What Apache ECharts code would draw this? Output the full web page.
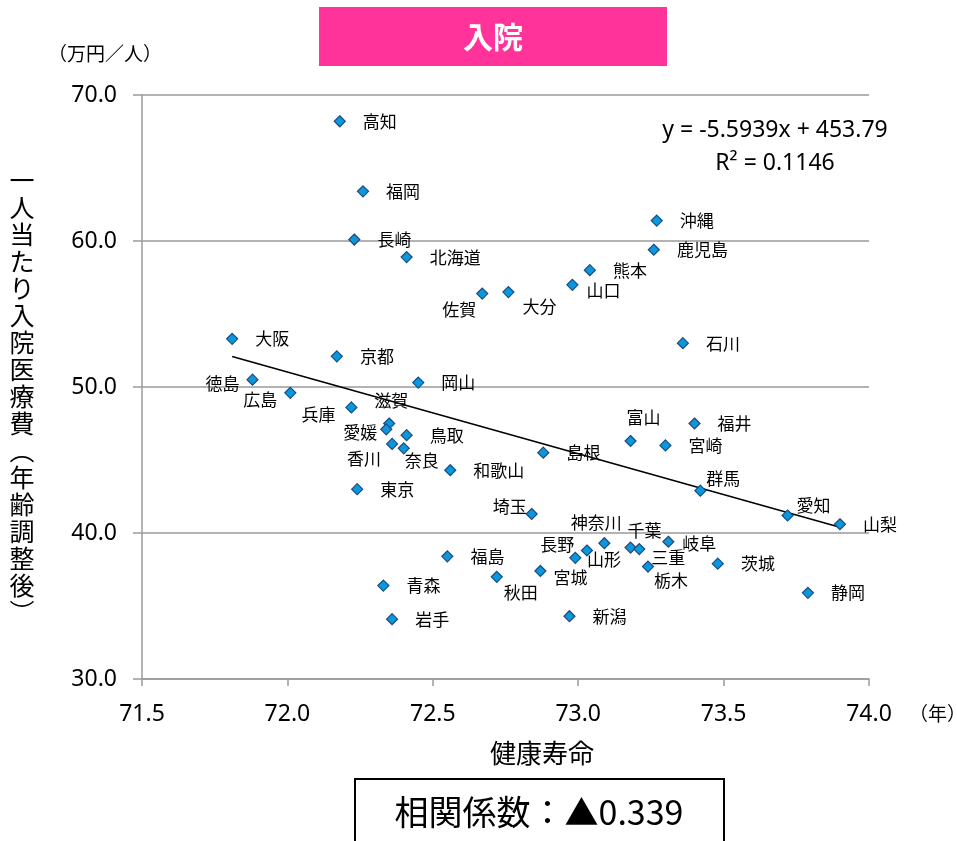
<!DOCTYPE html>
<html>
<head>
<meta charset="utf-8">
<script src="https://cdn.jsdelivr.net/npm/echarts@6/dist/echarts.min.js"></script>
<style>
html, body { margin: 0; padding: 0; background: #fff; }
#chart { width: 957px; height: 841px; }
</style>
</head>
<body>
<div id="chart"></div>
<script>
// prefecture names, healthy life expectancy (years), age-adjusted inpatient cost per person (10k yen)
const prefectures = ['北海道', '青森', '岩手', '宮城', '秋田', '山形', '福島', '茨城', '栃木', '群馬',
    '埼玉', '千葉', '東京', '神奈川', '新潟', '富山', '石川', '福井', '山梨', '長野',
    '岐阜', '静岡', '愛知', '三重', '滋賀', '京都', '大阪', '兵庫', '奈良', '和歌山',
    '鳥取', '島根', '岡山', '広島', '山口', '徳島', '香川', '愛媛', '高知', '福岡',
    '佐賀', '長崎', '熊本', '大分', '宮崎', '鹿児島', '沖縄'];
const lifeExpectancy = [72.41, 72.33, 72.36, 72.87, 72.72, 73.03, 72.55, 73.48, 73.24, 73.42,
    72.84, 73.18, 72.24, 73.09, 72.97, 73.18, 73.36, 73.40, 73.90, 72.99,
    73.31, 73.79, 73.72, 73.21, 72.35, 72.17, 71.81, 72.22, 72.40, 72.56,
    72.41, 72.88, 72.45, 72.01, 72.98, 71.88, 72.36, 72.34, 72.18, 72.26,
    72.67, 72.23, 73.04, 72.76, 73.30, 73.26, 73.27];
const inpatientCost = [58.9, 36.4, 34.1, 37.4, 37.0, 38.8, 38.4, 37.9, 37.7, 42.9,
    41.3, 39.0, 43.0, 39.3, 34.3, 46.3, 53.0, 47.5, 40.6, 38.3,
    39.4, 35.9, 41.2, 38.9, 47.5, 52.1, 53.3, 48.6, 45.8, 44.3,
    46.7, 45.5, 50.3, 49.6, 57.0, 50.5, 46.1, 47.1, 68.2, 63.4,
    56.4, 60.1, 58.0, 56.5, 46.0, 59.4, 61.4];

// Excel trendline shown on the chart
const trendSlope = -5.5939;
const trendIntercept = 453.79;
const trendText = ['y = -5.5939x + 453.79', 'R² = 0.1146'];
const correlationText = '相関係数：▲0.339';

const xRange = { min: 71.5, max: 74.0, step: 0.5 };
const yRange = { min: 30, max: 70, step: 10 };

// labels that were dragged away from the default right-hand spot: centre offset from the marker
const labelNudge = {
    '佐賀': [-23, 16], '大分': [31, 14], '山口': [31, 6], '徳島': [-30, 4], '広島': [-30, 7],
    '兵庫': [-33, 7], '滋賀': [2, -23], '愛媛': [-26, 3], '香川': [-28, 15], '奈良': [18, 12],
    '富山': [13, -23], '群馬': [23, -12], '愛知': [26, -10], '埼玉': [-22, -7], '長野': [-18, -13],
    '山形': [17, 9], '神奈川': [-8, -21], '千葉': [14, -17], '三重': [29, 8], '栃木': [23, 14],
    '岐阜': [31, 2], '秋田': [24, 16], '宮城': [30, 7]
};

const jp = '"Noto Sans CJK JP", sans-serif';
const num = '"Noto Sans", sans-serif';

const points = prefectures.map(function (name, i) {
    const item = { name: name, value: [lifeExpectancy[i], inpatientCost[i]] };
    if (labelNudge[name]) {
        item.label = { position: 'inside', offset: labelNudge[name] };
    }
    return item;
});

const xLo = Math.min.apply(null, lifeExpectancy);
const xHi = Math.max.apply(null, lifeExpectancy);
const trend = [[xLo, trendSlope * xLo + trendIntercept], [xHi, trendSlope * xHi + trendIntercept]];

const yTitle = '一人当たり入院医療費︵年齢調整後︶'.split('').join('\n');

const chart = echarts.init(document.getElementById('chart'), null, { renderer: 'canvas' });

const option = {
    animation: false,
    backgroundColor: '#fff',
    grid: { left: 142, right: 88, top: 95, bottom: 162 },
    xAxis: {
        type: 'value',
        min: xRange.min,
        max: xRange.max,
        interval: xRange.step,
        axisLine: { lineStyle: { color: '#9a9a9a', width: 1.5 } },
        axisTick: { show: true, inside: false, length: 7, lineStyle: { color: '#9a9a9a', width: 1.5 } },
        splitLine: { show: false },
        axisLabel: {
            margin: 24,
            color: '#000',
            fontFamily: num,
            fontSize: 23,
            formatter: function (v) { return v.toFixed(1); }
        }
    },
    yAxis: {
        type: 'value',
        min: yRange.min,
        max: yRange.max,
        interval: yRange.step,
        axisLine: { show: true, lineStyle: { color: '#9a9a9a', width: 1.5 } },
        axisTick: { show: true, inside: false, length: 9, lineStyle: { color: '#9a9a9a', width: 1.5 } },
        splitLine: { show: true, lineStyle: { color: '#9a9a9a', width: 1.5 } },
        axisLabel: {
            margin: 25,
            color: '#000',
            fontFamily: num,
            fontSize: 23,
            formatter: function (v) { return v.toFixed(1); }
        }
    },
    series: [
        {
            type: 'line',
            data: trend,
            symbol: 'none',
            silent: true,
            z: 3,
            lineStyle: { color: '#000', width: 1.6 }
        },
        {
            type: 'scatter',
            data: points,
            symbol: 'diamond',
            symbolSize: 11,
            z: 4,
            itemStyle: { color: '#0a98dc', borderColor: '#1d4a80', borderWidth: 1.2, opacity: 1 },
            label: {
                show: true,
                position: 'right',
                distance: 17,
                formatter: '{b}',
                color: '#000',
                fontFamily: jp,
                fontSize: 17
            }
        }
    ],
    graphic: [
        {
            type: 'rect',
            shape: { x: 319, y: 7, width: 348, height: 59 },
            style: { fill: '#ff3399' }
        },
        {
            type: 'text',
            x: 493, y: 37,
            style: { text: '入院', fill: '#fff', font: 'bold 30px ' + jp, textAlign: 'center', textVerticalAlign: 'middle' }
        },
        {
            type: 'text',
            x: 105, y: 54,
            style: { text: '（万円／人）', fill: '#000', font: '19px ' + jp, textAlign: 'center', textVerticalAlign: 'middle' }
        },
        {
            type: 'text',
            x: 22, y: 396,
            style: { text: yTitle, fill: '#000', font: '25px ' + jp, lineHeight: 27, textAlign: 'center', textVerticalAlign: 'middle' }
        },
        {
            type: 'text',
            x: 542, y: 753,
            style: { text: '健康寿命', fill: '#000', font: '26px ' + jp, textAlign: 'center', textVerticalAlign: 'middle' }
        },
        {
            type: 'text',
            x: 909, y: 714,
            style: { text: '（年）', fill: '#000', font: '19px ' + jp, textAlign: 'left', textVerticalAlign: 'middle' }
        },
        {
            type: 'text',
            x: 775, y: 130,
            style: { text: trendText[0], fill: '#000', font: '23px ' + num, textAlign: 'center', textVerticalAlign: 'middle' }
        },
        {
            type: 'text',
            x: 775, y: 163,
            style: { text: trendText[1], fill: '#000', font: '23px ' + num, textAlign: 'center', textVerticalAlign: 'middle' }
        },
        {
            type: 'rect',
            shape: { x: 355, y: 779, width: 369, height: 80 },
            style: { fill: '#fff', stroke: '#000', lineWidth: 2 }
        },
        {
            type: 'text',
            x: 539, y: 812,
            style: { text: correlationText, fill: '#000', font: '34px ' + jp, textAlign: 'center', textVerticalAlign: 'middle' }
        }
    ]
};

chart.setOption(option);
</script>
</body>
</html>
